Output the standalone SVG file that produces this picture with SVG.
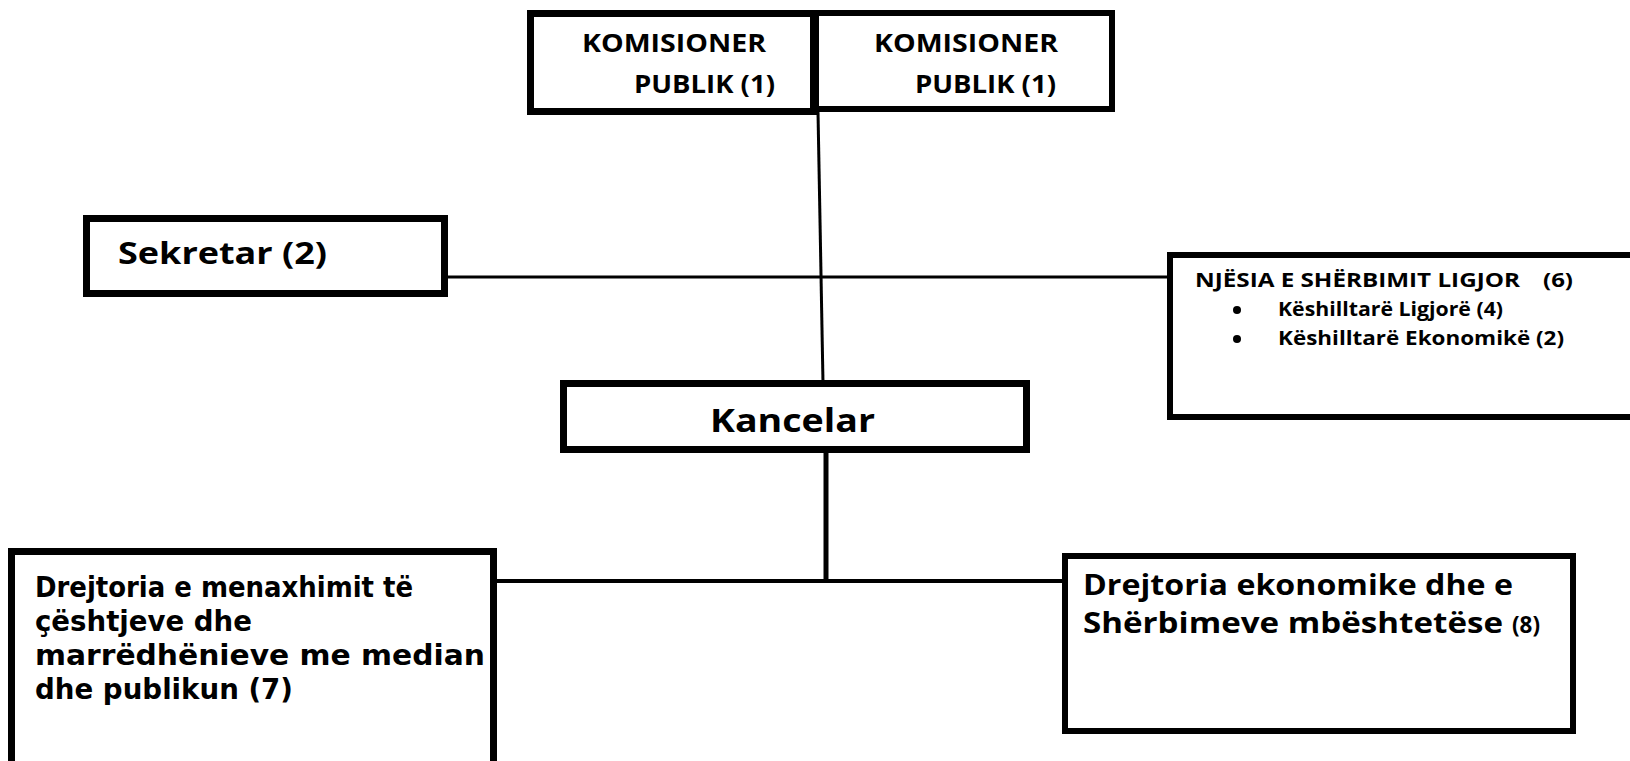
<svg xmlns="http://www.w3.org/2000/svg" width="1630" height="761" viewBox="0 0 1630 761">
<style>
.box{fill:#fff;stroke:#000;stroke-linejoin:miter}
.t{font-family:"Open Sans","DejaVu Sans",sans-serif;font-weight:bold;fill:#000}
.d{font-family:"DejaVu Sans","Open Sans",sans-serif;font-weight:bold;fill:#000}
.c{stroke:#000;fill:none}
</style>
<rect width="1630" height="761" fill="#fff"/>
<g id="connectors">
<line class="c" x1="818" y1="112" x2="823" y2="383" stroke-width="3"/>
<line class="c" x1="448" y1="277" x2="1167" y2="277" stroke-width="3"/>
<line class="c" x1="826" y1="453" x2="826" y2="581" stroke-width="5"/>
<line class="c" x1="497" y1="581" x2="1062" y2="581" stroke-width="4"/>
</g>
<g id="komisioner1">
<rect class="box" x="530.5" y="13.5" width="283" height="98" stroke-width="7"/>
<text class="t" x="582" y="52" font-size="25" textLength="184" lengthAdjust="spacingAndGlyphs">KOMISIONER</text>
<text class="t" x="634" y="93" font-size="25" textLength="141" lengthAdjust="spacingAndGlyphs">PUBLIK (1)</text>
</g>
<g id="komisioner2">
<rect class="box" x="816" y="13" width="296" height="96" stroke-width="6"/>
<text class="t" x="874" y="52" font-size="25" textLength="184" lengthAdjust="spacingAndGlyphs">KOMISIONER</text>
<text class="t" x="915" y="93" font-size="25" textLength="141" lengthAdjust="spacingAndGlyphs">PUBLIK (1)</text>
</g>
<g id="sekretar">
<rect class="box" x="86.5" y="218.5" width="358" height="75" stroke-width="7"/>
<text class="t" x="118" y="264" font-size="30" textLength="209" lengthAdjust="spacingAndGlyphs">Sekretar (2)</text>
</g>
<g id="njesia">
<rect class="box" x="1170" y="255" width="500" height="162" stroke-width="6"/>
<text class="t" x="1195" y="287" font-size="19" textLength="325" lengthAdjust="spacingAndGlyphs">NJËSIA E SHËRBIMIT LIGJOR</text>
<text class="t" x="1543" y="287" font-size="19" textLength="30" lengthAdjust="spacingAndGlyphs">(6)</text>
<circle cx="1237" cy="310" r="4" fill="#000"/>
<text class="t" x="1278" y="316" font-size="19" textLength="225" lengthAdjust="spacingAndGlyphs">Këshilltarë Ligjorë (4)</text>
<circle cx="1237" cy="339" r="4" fill="#000"/>
<text class="t" x="1278" y="345" font-size="19" textLength="286" lengthAdjust="spacingAndGlyphs">Këshilltarë Ekonomikë  (2)</text>
</g>
<g id="kancelar">
<rect class="box" x="563.5" y="383.5" width="463" height="66" stroke-width="7"/>
<text class="t" x="710" y="432" font-size="32" textLength="165" lengthAdjust="spacingAndGlyphs">Kancelar</text>
</g>
<g id="drejtoria7">
<rect class="box" x="11.5" y="551.5" width="482" height="250" stroke-width="7"/>
<text class="d" x="35" y="597" font-size="28" textLength="378" lengthAdjust="spacingAndGlyphs">Drejtoria e menaxhimit të</text>
<text class="d" x="35" y="631" font-size="28" textLength="217" lengthAdjust="spacingAndGlyphs">çështjeve dhe</text>
<text class="d" x="35" y="665" font-size="28" textLength="450" lengthAdjust="spacingAndGlyphs">marrëdhënieve me median</text>
<text class="d" x="35" y="699" font-size="28" textLength="258" lengthAdjust="spacingAndGlyphs">dhe publikun (7)</text>
</g>
<g id="drejtoria8">
<rect class="box" x="1065" y="556" width="508" height="175" stroke-width="6"/>
<text class="t" x="1083" y="595" font-size="29" textLength="430" lengthAdjust="spacingAndGlyphs">Drejtoria ekonomike dhe e</text>
<text class="t" x="1083" y="633" font-size="29" textLength="420" lengthAdjust="spacingAndGlyphs">Shërbimeve mbështetëse</text>
<text class="t" x="1512" y="633" font-size="24" textLength="28" lengthAdjust="spacingAndGlyphs">(8)</text>
</g>
</svg>
